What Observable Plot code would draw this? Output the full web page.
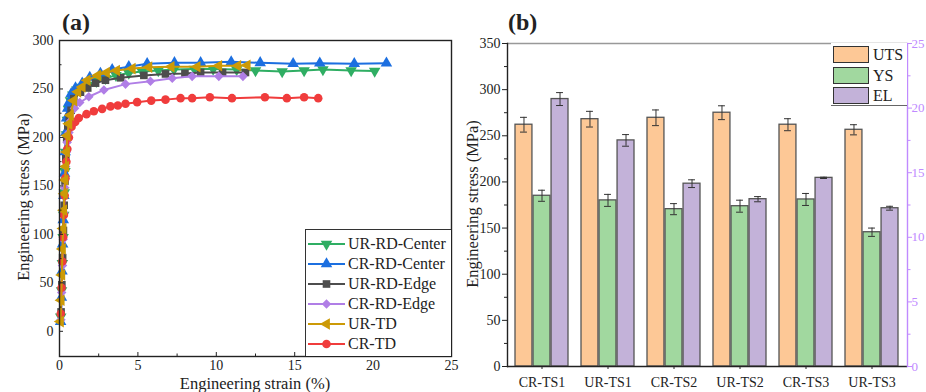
<!DOCTYPE html>
<html><head><meta charset="utf-8">
<script src="https://cdn.jsdelivr.net/npm/d3@7"></script>
<script src="https://cdn.jsdelivr.net/npm/@observablehq/plot@0.6"></script>
<style>
body{margin:0;background:#fff;}
#fig{position:relative;width:926px;height:392px;overflow:hidden;font-family:"Liberation Serif","Times New Roman",serif;color:#222;}
.abs{position:absolute;white-space:nowrap;line-height:1;}
</style></head><body><div id="fig"></div>
<script>
// ---------- Panel (a) data ----------
const seriesNames = ["UR-RD-Center","CR-RD-Center","UR-RD-Edge","CR-RD-Edge","UR-TD","CR-TD"];
const seriesColors = ["#2fae63","#1c6fe0","#4d4d4d","#b07ee6","#cc9a06","#f03c3c"];
const seriesSymbols = ["triangle","triangle","square","diamond2","triangle","circle"];
const seriesRotate = [180,0,0,0,-90,0];

const strainURRDCenter = [0.08,0.13,0.18,0.23,0.27,0.31,0.35,0.39,0.44,0.5,0.58,0.7,0.85,1.1,1.45,1.83,2.35,2.93,3.6,4.42,5.27,6.3,7.3,8.6,9.8,11.3,12.5,14.2,15.6,16.8,18.6,20.1];
const stressURRDCenter = [15,42,70,97,120,143,165,185,203,218,229,238,244,249,252,254,258,261,264,266.5,268,269,270,270.5,270.5,270,269,268,269,270,269,268.5];
const strainCRRDCenter = [0.07,0.12,0.16,0.2,0.24,0.28,0.32,0.36,0.4,0.45,0.52,0.6,0.74,1.02,1.45,1.93,2.61,3.36,4.42,5.59,7.33,9.0,10.95,12.8,14.9,16.6,18.8,20.85];
const stressCRRDCenter = [10,35,62,90,115,140,163,185,205,220,230,236,245,251,256,262,266,270,273,276,277,277,278,277,276,276.5,276,276.5];
const strainURRDEdge = [0.1,0.15,0.2,0.25,0.3,0.35,0.4,0.46,0.53,0.62,0.74,0.91,1.34,1.8,2.3,2.93,3.9,5.38,6.76,8.0,9.0,10.4,11.86];
const stressURRDEdge = [20,48,76,104,130,155,178,198,212,221,228,240,246.7,251,256,259,261.5,264,265.5,266,267,267,267];
const strainCRRDEdge = [0.09,0.14,0.19,0.24,0.29,0.34,0.39,0.44,0.49,0.6,0.7,0.96,1.29,1.87,2.83,4.21,5.8,7.19,8.46,10.16,11.7];
const stressCRRDEdge = [12,40,68,95,122,148,170,185,195,205,217,230,236,242,249,255,258,261,263,263,263];
const strainURTD = [0.06,0.11,0.15,0.19,0.23,0.27,0.31,0.35,0.4,0.45,0.49,0.6,0.7,0.91,1.17,1.45,1.77,2.44,3.0,3.64,4.64,5.7,7.12,8.78,10.16,11.37,11.97];
const stressURTD = [10,32,58,85,106,125,142,156,170,185,202,214,223,238,247,252,259,264,267,269,271,272.5,273,273,274,274,274.5];
const strainCRTD = [0.08,0.13,0.18,0.23,0.28,0.33,0.38,0.44,0.5,0.6,0.77,1.0,1.23,1.72,2.19,2.72,3.25,3.72,4.21,4.95,5.85,6.76,7.72,8.46,9.59,11.0,13.1,14.5,15.6,16.5];
const stressCRTD = [18,45,72,97,120,140,158,175,188,200,211,216,220,224,227,229.5,232,233,234.7,236.4,238,239,240.5,240.5,241.5,240.5,241.5,240.5,241.5,240.5];

const xTicksA = [0,5,10,15,20,25];
const xMinorA = [2.5,7.5,12.5,17.5,22.5];
const yTicksA = [0,50,100,150,200,250,300];
const yMinorA = [25,75,125,175,225,275];

// ---------- Panel (b) data ----------
const categories = ["CR-TS1","UR-TS1","CR-TS2","UR-TS2","CR-TS3","UR-TS3"];
const metrics = ["UTS","YS","EL"];
const metricColors = ["#fdc896","#a1d89f","#c3b2d9"];
const utsValues = [262,268,269.5,275,262,256.5];
const utsErr = [8,8.5,8.5,7.5,6.5,5.5];
const ysValues = [185,180,170.5,173.7,181,145.5];
const ysErr = [6,6.5,6,6.5,6.5,4.5];
const elValues = [20.7,17.5,14.15,12.95,14.6,12.25];
const elErr = [0.5,0.45,0.3,0.2,0.05,0.15];
const yTicksB = [0,50,100,150,200,250,300,350];
const yMinorB = [25,75,125,175,225,275,325];
const rightTicksB = [0,5,10,15,20,25];
const rightMinorB = [2.5,7.5,12.5,17.5,22.5];

const serif = "'Liberation Serif','Times New Roman',serif";
const fig = document.getElementById("fig");

// ---------- Panel (a) ----------
const strainAll = [strainURRDCenter,strainCRRDCenter,strainURRDEdge,strainCRRDEdge,strainURTD,strainCRTD];
const stressAll = [stressURRDCenter,stressCRRDCenter,stressURRDEdge,stressCRRDEdge,stressURTD,stressCRTD];
const drawOrder = [0,1,2,3,5,4];
const seriesMarks = [];
drawOrder.forEach(i => {
  const rows = strainAll[i].map((x,j) => ({name: seriesNames[i], strain: x, stress: stressAll[i][j]}));
  seriesMarks.push(Plot.line(rows, {x:"strain", y:"stress", stroke: seriesColors[i], strokeWidth: 2}));
  seriesMarks.push(Plot.dot(rows, {x:"strain", y:"stress", fill: seriesColors[i], symbol: seriesSymbols[i], rotate: seriesRotate[i], r: 4.3, stroke: "none"}));
});

const plotA = Plot.plot({
  width: 470, height: 392,
  marginLeft: 59, marginRight: 19, marginTop: 40, marginBottom: 36,
  x: {domain: [0,25]},
  y: {domain: [-26,300]},
  style: {fontFamily: serif, fontSize: "14px", color: "#222", background: "transparent", overflow: "visible"},
  marks: [
    ...seriesMarks,
    Plot.axisY({ticks: yTicksA, tickSize: 0, tickPadding: 6, label: null}),
    Plot.axisY({ticks: yTicksA, tickSize: -4, tickFormat: () => "", label: null}),
    Plot.axisY({ticks: yMinorA, tickSize: -2.5, tickFormat: () => "", label: null}),
    Plot.axisX({ticks: xTicksA, tickSize: 0, tickPadding: 4, label: null}),
    Plot.axisX({ticks: xTicksA, tickSize: -4, tickFormat: () => "", label: null}),
    Plot.axisX({ticks: xMinorA, tickSize: -2.5, tickFormat: () => "", label: null}),
    Plot.frame({stroke: "#222", strokeWidth: 1.4})
  ]
});
plotA.style.position = "absolute"; plotA.style.left = "0px"; plotA.style.top = "0px";
fig.appendChild(plotA);

// ---------- Panel (b) ----------
const elScale = 350 / 25;
const rowsB = [];
categories.forEach((c,i) => {
  rowsB.push({cat: c, metric: "UTS", v: utsValues[i], e: utsErr[i]});
  rowsB.push({cat: c, metric: "YS", v: ysValues[i], e: ysErr[i]});
  rowsB.push({cat: c, metric: "EL", v: elValues[i]*elScale, e: elErr[i]*elScale});
});
const WB = 466, mLB = 47, mRB = 19;
const bw = d3.scaleBand().domain(categories).range([mLB, WB - mRB]).paddingInner(0.19).paddingOuter(0.09).bandwidth();
const third = bw / 3;
const purple = "#c08aff";
const barMarks = [], errMarks = [];
metrics.forEach((m,k) => {
  const rows = rowsB.filter(d => d.metric === m);
  barMarks.push(Plot.barY(rows, {x: "cat", y: "v", fill: metricColors[k], stroke: "#555", strokeWidth: 1.3,
    insetLeft: k*third, insetRight: (2-k)*third}));
  const dx = (k-1)*third;
  errMarks.push(Plot.ruleX(rows, {x: "cat", y1: d => d.v - d.e, y2: d => d.v + d.e, dx, stroke: "#333", strokeWidth: 1}));
  errMarks.push(Plot.tickY(rows, {x: "cat", y: d => d.v + d.e, dx, stroke: "#333", strokeWidth: 1, insetLeft: bw/2 - 4, insetRight: bw/2 - 4}));
  errMarks.push(Plot.tickY(rows, {x: "cat", y: d => d.v - d.e, dx, stroke: "#333", strokeWidth: 1, insetLeft: bw/2 - 4, insetRight: bw/2 - 4}));
});

const plotB = Plot.plot({
  width: WB, height: 392,
  marginLeft: mLB, marginRight: mRB, marginTop: 43, marginBottom: 26,
  x: {domain: categories, paddingInner: 0.19, paddingOuter: 0.09},
  y: {domain: [0,350]},
  style: {fontFamily: serif, fontSize: "14px", color: "#222", background: "transparent", overflow: "visible"},
  marks: [
    ...barMarks,
    ...errMarks,
    Plot.ruleY([350], {stroke: "#999", strokeWidth: 1.3}),
    Plot.ruleY([0], {stroke: "#222", strokeWidth: 1.4}),
    Plot.frame({anchor: "left", stroke: "#222", strokeWidth: 1.4}),
    Plot.frame({anchor: "right", stroke: purple, strokeWidth: 1.4}),
    Plot.axisY({anchor: "left", ticks: yTicksB, tickSize: 5, tickPadding: 2, label: null}),
    Plot.axisY({anchor: "left", ticks: yMinorB, tickSize: 3, tickFormat: () => "", label: null}),
    Plot.axisY({anchor: "right", ticks: rightTicksB.map(d => d*elScale), tickFormat: d => String(Math.round(d/elScale)),
      tickSize: 4, tickPadding: 0, fontSize: 13, stroke: purple, fill: purple, color: purple, label: null}),
    Plot.axisY({anchor: "right", ticks: rightMinorB.map(d => d*elScale), tickFormat: () => "",
      tickSize: 2.5, stroke: purple, label: null}),
    Plot.axisX({ticks: categories, tickSize: 3, tickPadding: 8, label: null})
  ]
});
plotB.style.position = "absolute"; plotB.style.left = "460px"; plotB.style.top = "0px";
fig.appendChild(plotB);

// ---------- Text ----------
function addText(txt, css) {
  const d = document.createElement("div");
  d.className = "abs"; d.textContent = txt;
  Object.assign(d.style, css);
  fig.appendChild(d);
  return d;
}
addText("(a)", {left: "62px", top: "10px", fontSize: "24px", fontWeight: "bold"});
addText("(b)", {left: "508px", top: "10px", fontSize: "24px", fontWeight: "bold"});
addText("Engineering strain (%)", {left: "255px", top: "384px", fontSize: "16.5px", lineHeight: "0.85", transform: "translate(-50%,-50%)"});
addText("Engineering stress (MPa)", {left: "24px", top: "197px", fontSize: "16.5px", transform: "translate(-50%,-50%) rotate(-90deg)"});
addText("Engineering stress (MPa)", {left: "473px", top: "204px", fontSize: "16.5px", transform: "translate(-50%,-50%) rotate(-90deg)"});

// ---------- Legend (a) ----------
const legA = document.createElement("div");
Object.assign(legA.style, {position: "absolute", left: "305px", top: "229px", width: "146px", height: "127px",
  background: "#fff", borderLeft: "1.3px solid #333", borderTop: "1.3px solid #333", boxSizing: "border-box"});
fig.appendChild(legA);
seriesNames.forEach((name,i) => {
  const row = document.createElement("div");
  Object.assign(row.style, {position: "absolute", left: "0px", top: (4 + i*19.9) + "px", height: "20px", width: "146px"});
  const svg = d3.create("svg").attr("width", 42).attr("height", 20).style("position","absolute").style("left","1px").style("top","0px");
  svg.append("line").attr("x1", 1).attr("x2", 38).attr("y1", 10).attr("y2", 10).attr("stroke", seriesColors[i]).attr("stroke-width", 2);
  const symMap = {triangle: d3.symbolTriangle, square: d3.symbolSquare, diamond2: d3.symbolDiamond2, circle: d3.symbolCircle};
  svg.append("path").attr("d", d3.symbol(symMap[seriesSymbols[i]], Math.PI*4.3*4.3)())
    .attr("transform", `translate(19.5,10) rotate(${seriesRotate[i]})`).attr("fill", seriesColors[i]);
  row.appendChild(svg.node());
  const t = document.createElement("div");
  t.textContent = name;
  Object.assign(t.style, {position: "absolute", left: "42px", top: "1px", fontSize: "16px", lineHeight: "18px", whiteSpace: "nowrap"});
  row.appendChild(t);
  legA.appendChild(row);
});

// ---------- Legend (b) ----------
const legB = document.createElement("div");
Object.assign(legB.style, {position: "absolute", left: "831px", top: "43px", width: "76px", height: "63px",
  background: "#fff", borderBottom: "1.3px solid #666", boxSizing: "border-box"});
fig.appendChild(legB);
metrics.forEach((m,k) => {
  const sw = document.createElement("div");
  Object.assign(sw.style, {position: "absolute", left: "2px", top: (3 + k*20.5) + "px", width: "36px", height: "17px",
    background: metricColors[k], border: "1.4px solid #333", boxSizing: "border-box"});
  legB.appendChild(sw);
  const t = document.createElement("div");
  t.textContent = m;
  Object.assign(t.style, {position: "absolute", left: "42px", top: (3 + k*20.5) + "px", fontSize: "16px", lineHeight: "18px"});
  legB.appendChild(t);
});
</script></body></html>
